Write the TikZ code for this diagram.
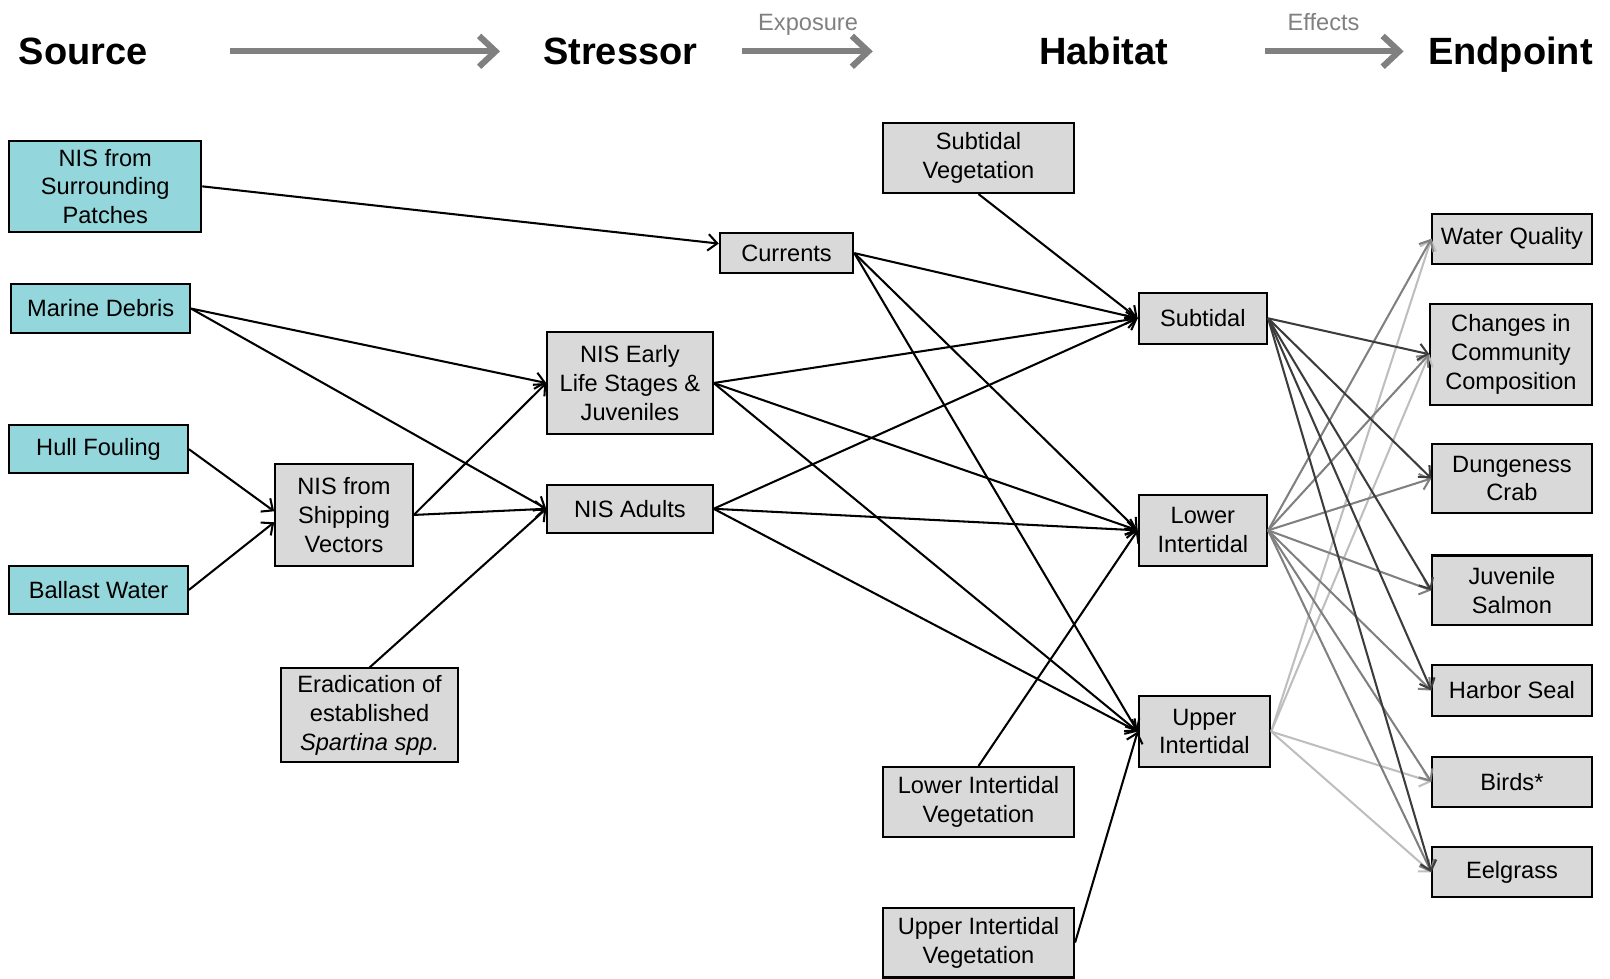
\documentclass[tikz,border=0pt]{standalone}
\usepackage{fontspec}
\setmainfont{Liberation Sans}
\usepackage{xcolor}
\usepackage{tikz}
\usetikzlibrary{arrows.meta}

\definecolor{srcfill}{RGB}{147,214,219}
\definecolor{boxfill}{RGB}{217,217,217}
\definecolor{labgray}{RGB}{128,128,128}
\definecolor{subline}{RGB}{60,60,60}
\definecolor{lowline}{RGB}{128,128,128}
\definecolor{upline}{RGB}{190,190,190}

\begin{document}
\begin{tikzpicture}[x=0.5pt, y=-0.5pt,
      box/.style={draw, line width=1pt, fill=boxfill, inner sep=0pt,
                  align=center, font=\fontsize{11.5}{14}\selectfont},
      src/.style={box, fill=srcfill},
      head/.style={anchor=base, font=\fontsize{18.5}{22}\selectfont\bfseries},
      tag/.style={anchor=base, text=labgray, font=\fontsize{11.5}{14}\selectfont},
      bigarr/.style={-{Straight Barb[length=8pt,width=15pt]}, line width=3pt, draw=labgray},
      arr/.style={-{Straight Barb[length=4.5pt,width=8pt]}, line width=1pt}
    ]
      \useasboundingbox (0,0) rectangle (1568,953);

      % column headings
      \node[head] (hsrc) at (81, 63)   {Source};
      \node[head] (hstr) at (604, 63)  {Stressor};
      \node[head] (hhab) at (1075, 63) {Habitat};
      \node[head] (hend) at (1471, 63) {Endpoint};
      \node[tag] (texp) at (787, 30)   {Exposure};
      \node[tag] (teff) at (1289, 30)  {Effects};
      \coordinate (a1s) at (224, 50);  \coordinate (a1e) at (487, 50);
      \coordinate (a2s) at (723, 50);  \coordinate (a2e) at (850, 50);
      \coordinate (a3s) at (1232, 50); \coordinate (a3e) at (1367, 50);
      \draw[bigarr] (a1s) -- (a1e);
      \draw[bigarr] (a2s) -- (a2e);
      \draw[bigarr] (a3s) -- (a3e);

      % sources
      \node[src, minimum width=93.5pt, minimum height=44.5pt] (patch) at (102.5, 181.5)
           {NIS from\\Surrounding\\Patches};
      \node[src, minimum width=87pt, minimum height=23.5pt] (debris) at (98, 300.5) {Marine Debris};
      \node[src, minimum width=87pt, minimum height=23.5pt] (hull) at (96, 437.5) {Hull Fouling};
      \node[src, minimum width=87pt, minimum height=23.5pt] (ballast) at (96, 574.5) {Ballast Water};
      \node[box, minimum width=67pt, minimum height=49.5pt] (ship) at (335, 501.5)
           {NIS from\\Shipping\\Vectors};
      \node[box, minimum width=86pt, minimum height=45.5pt] (erad) at (360, 696.5)
           {Eradication of\\established\\\textit{Spartina spp.}};

      % stressors
      \node[box, minimum width=80.5pt, minimum height=50pt] (early) at (613.5, 373)
           {NIS Early\\Life Stages \&\\Juveniles};
      \node[box, minimum width=80.5pt, minimum height=23.5pt] (adults) at (613.5, 495.5) {NIS Adults};
      \node[box, minimum width=65pt, minimum height=19.5pt] (currents) at (766, 246.5) {Currents};

      % habitats
      \node[box, minimum width=93pt, minimum height=34pt] (subveg) at (953, 154)
           {Subtidal\\Vegetation};
      \node[box, minimum width=93pt, minimum height=34pt] (lowveg) at (953, 781)
           {Lower Intertidal\\Vegetation};
      \node[box, minimum width=93pt, minimum height=34pt] (upveg) at (953, 918)
           {Upper Intertidal\\Vegetation};
      \node[box, minimum width=62.5pt, minimum height=25pt] (subtidal) at (1171.5, 310) {Subtidal};
      \node[box, minimum width=62.5pt, minimum height=34.5pt] (lower) at (1171.5, 516.5)
           {Lower\\Intertidal};
      \node[box, minimum width=64pt, minimum height=34.5pt] (upper) at (1173, 712.5)
           {Upper\\Intertidal};

      % endpoints
      \node[box, minimum width=77.5pt, minimum height=24.5pt] (wq) at (1472.5, 232.5) {Water Quality};
      \node[box, minimum width=78.5pt, minimum height=49pt] (comm) at (1471.5, 345)
           {Changes in\\Community\\Composition};
      \node[box, minimum width=77.5pt, minimum height=34pt] (crab) at (1472.5, 466)
           {Dungeness\\Crab};
      \node[box, minimum width=77.5pt, minimum height=34pt] (salmon) at (1472.5, 575)
           {Juvenile\\Salmon};
      \node[box, minimum width=77.5pt, minimum height=24.5pt] (seal) at (1472.5, 672.5) {Harbor Seal};
      \node[box, minimum width=77.5pt, minimum height=24.5pt] (birds) at (1472.5, 761.5) {Birds*};
      \node[box, minimum width=77.5pt, minimum height=24.5pt] (eel) at (1472.5, 849.5) {Eelgrass};

      % source -> stressor
      \draw[arr] (patch.east) -- (currents.172);
      \draw[arr] (debris.east) -- (early.west);
      \draw[arr] (debris.east) -- (adults.west);
      \draw[arr] (hull.east) -- (ship.177);
      \draw[arr] (ballast.east) -- (ship.186);
      \draw[arr] (ship.east) -- (early.west);
      \draw[arr] (ship.east) -- (adults.west);
      \draw[arr] (erad.north) -- (adults.west);

      % stressor -> habitat
      \draw[arr] (currents.east) -- (subtidal.west);
      \draw[arr] (currents.east) -- (lower.west);
      \draw[arr] (currents.east) -- (upper.west);
      \draw[arr] (early.east) -- (subtidal.west);
      \draw[arr] (early.east) -- (lower.west);
      \draw[arr] (early.east) -- (upper.west);
      \draw[arr] (adults.east) -- (subtidal.west);
      \draw[arr] (adults.east) -- (lower.west);
      \draw[arr] (adults.east) -- (upper.west);
      \draw[arr] (subveg.south) -- (subtidal.west);
      \draw[arr] (lowveg.north) -- (lower.west);
      \draw[arr] (upveg.east) -- (upper.west);

      % habitat -> endpoint (upper intertidal)
      \draw[arr, draw=upline] (upper.east) -- (wq.west);
      \draw[arr, draw=upline] (upper.east) -- (comm.west);
      \draw[arr, draw=upline] (upper.east) -- (birds.west);
      \draw[arr, draw=upline] (upper.east) -- (eel.west);

      % habitat -> endpoint (lower intertidal)
      \draw[arr, draw=lowline] (lower.east) -- (wq.west);
      \draw[arr, draw=lowline] (lower.east) -- (comm.west);
      \draw[arr, draw=lowline] (lower.east) -- (crab.west);
      \draw[arr, draw=lowline] (lower.east) -- (salmon.west);
      \draw[arr, draw=lowline] (lower.east) -- (seal.west);
      \draw[arr, draw=lowline] (lower.east) -- (birds.west);
      \draw[arr, draw=lowline] (lower.east) -- (eel.west);

      % habitat -> endpoint (subtidal)
      \draw[arr, draw=subline] (subtidal.east) -- (comm.west);
      \draw[arr, draw=subline] (subtidal.east) -- (crab.west);
      \draw[arr, draw=subline] (subtidal.east) -- (salmon.west);
      \draw[arr, draw=subline] (subtidal.east) -- (seal.west);
      \draw[arr, draw=subline] (subtidal.east) -- (eel.west);
    \end{tikzpicture}
\end{document}
